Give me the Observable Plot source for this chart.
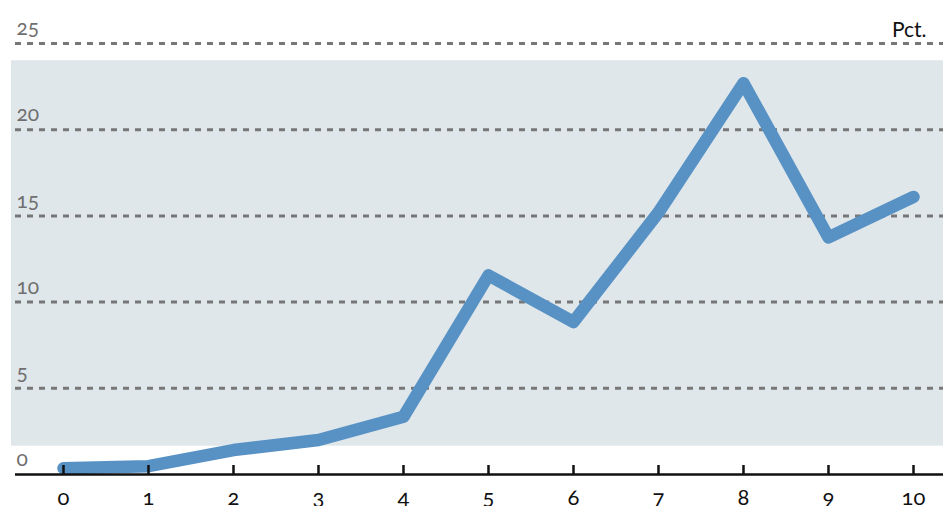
<!DOCTYPE html>
<html>
<head>
<meta charset="utf-8">
<script src="https://cdn.jsdelivr.net/npm/d3@7"></script>
<script src="https://cdn.jsdelivr.net/npm/@observablehq/plot@0.6"></script>
<style>
  html, body { margin: 0; padding: 0; background: #fff; }
  svg { font-variant-numeric: oldstyle-nums; font-feature-settings: "onum" 1; }
</style>
</head>
<body>
<div id="chart"></div>
<script>
// Data
const years = [0, 1, 2, 3, 4, 5, 6, 7, 8, 9, 10];
const values = [0.36, 0.48, 1.42, 2.0, 3.35, 11.55, 8.85, 15.2, 22.7, 13.75, 16.1];
const yTicks = [0, 5, 10, 15, 20, 25];
const gridTicks = [5, 10, 15, 20, 25];
const xTicks = [0, 1, 2, 3, 4, 5, 6, 7, 8, 9, 10];
const unitLabel = ["Pct."];
// shaded band extents (data units)
const band = [{x1: -0.612, x2: 10.36, y1: 1.64, y2: 24}];

const data = years.map((x, i) => ({x, y: values[i]}));

const chart = Plot.plot({
  width: 943,
  height: 506,
  marginLeft: 0,
  marginRight: 0,
  marginTop: 43,
  marginBottom: 32,
  style: {fontFamily: "Lato, 'Open Sans', sans-serif", background: "#fff"},
  x: {domain: [-0.741, 10.353], axis: null},
  y: {domain: [0, 25], axis: null},
  marks: [
    Plot.rect(band, {x1: "x1", x2: "x2", y1: "y1", y2: "y2", fill: "#e0e7eb"}),
    Plot.ruleY(gridTicks, {stroke: "#777", strokeWidth: 3, strokeDasharray: "6,6", insetLeft: 15}),
    Plot.text(yTicks, {y: d => d, text: d => String(d), frameAnchor: "left", dx: 16, dy: -15, textAnchor: "start", fill: "#6f6f6f", fontSize: 21}),
    Plot.line(data, {x: "x", y: "y", stroke: "#5892c5", strokeWidth: 12.5, strokeLinecap: "round", strokeLinejoin: "round"}),
    Plot.ruleY([0], {stroke: "#111", strokeWidth: 2.5, insetLeft: 15}),
    Plot.ruleX(xTicks, {x: d => d, y1: 0, y2: 0, insetTop: 0, insetBottom: 9, stroke: "#111", strokeWidth: 2.5}),
    Plot.text(xTicks, {x: d => d, y: 0, text: d => String(d), dy: 23, fill: "#111", fontSize: 22}),
    Plot.text(unitLabel, {frameAnchor: "top-right", text: d => d, dx: -17, dy: -21, textAnchor: "end", fill: "#111", fontSize: 21})
  ]
});
document.getElementById("chart").appendChild(chart);
</script>
</body>
</html>
